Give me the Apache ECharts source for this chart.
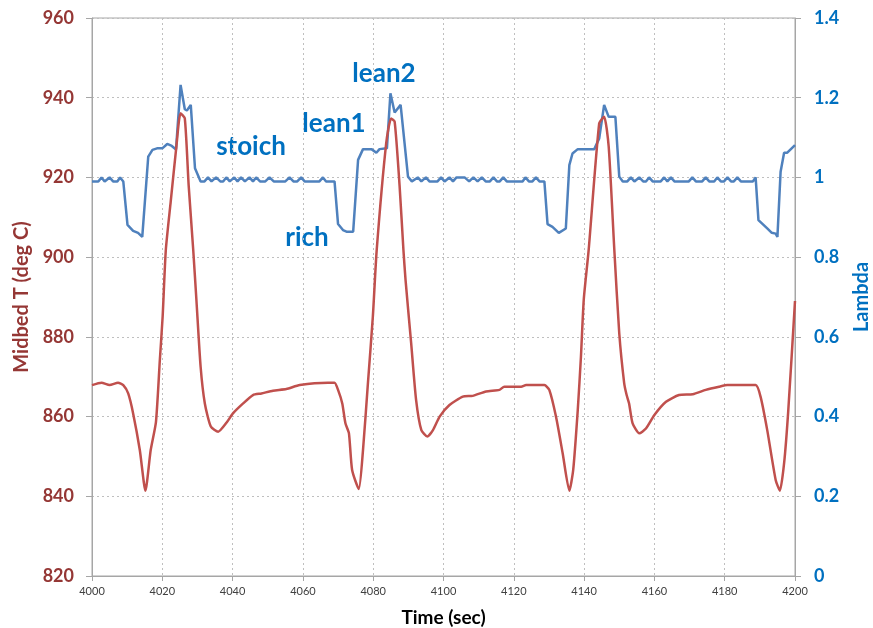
<!DOCTYPE html>
<html>
<head>
<meta charset="utf-8">
<script src="https://cdn.jsdelivr.net/npm/echarts@6/dist/echarts.min.js"></script>
<style>
html,body{margin:0;padding:0;background:#fff;}
#c{width:873px;height:628px;}
</style>
</head>
<body>
<div id="c"></div>
<script>
// Temperature series (Midbed T, deg C) vs time (sec)
var timeT = [4000,4002.7,4005,4007.4,4008.9,4010.3,4011.7,4013.6,4015.2,4016.7,4018.2,4019.3,4020.1,4021,4022.4,4024,4025.2,4026.4,4027.5,4028.8,4029.7,4030.9,4032.1,4033.8,4035.9,4038.3,4040.1,4043,4045.8,4048.2,4051.5,4055.3,4059.1,4067.1,4069,4070,4071.2,4072.1,4073.1,4074,4075.9,4077.1,4078.5,4079.9,4081,4083.7,4085.1,4086.1,4087.5,4088.6,4089.2,4090.8,4092.2,4093.7,4095.4,4097,4098.9,4101.7,4105.5,4108.3,4112.1,4115.9,4117.3,4122.1,4123.5,4128.7,4130.1,4132,4133.9,4135.8,4136.9,4138.2,4139.1,4139.9,4141.3,4144.3,4145.7,4147,4148.6,4150,4151.4,4152.1,4152.8,4153.8,4155.7,4157.6,4160,4163.3,4167,4170.9,4174.6,4178.4,4180.8,4188.8,4190.2,4192.1,4194.5,4195.7,4196.9,4198.1,4200];
var tempVals = [867.9,868.5,867.9,868.5,867.9,865.8,860.8,851.6,841.4,851.6,858.7,874.2,885.1,901.8,914,927.7,936.1,934.8,918,901.8,889.3,872.5,863.3,857.5,856.2,858.5,860.8,863.3,865.4,865.8,866.5,866.9,867.9,868.5,868.5,866.7,863.3,858.3,855.8,846.6,841.8,851.6,868.4,885.1,901.8,928.6,934.8,934,918,901.8,894.3,878.4,864.2,856.6,855,856.6,860,862.9,865,865.2,866.3,866.7,867.5,867.5,867.9,867.9,866.7,860,850.8,841.4,846.6,861.7,875,889.3,901.8,933.6,935.2,927.7,901.8,880.9,868.4,865.4,863.3,858.3,855.8,857,860.4,863.7,865.4,865.6,866.7,867.5,867.9,867.9,865,856.6,844.1,841.4,848.3,861.7,889];

// Lambda series vs time (sec)
var timeL = [4000,4001.8,4002.7,4003.6,4005,4006,4007.2,4008,4008.9,4010.1,4011.7,4013.1,4014.3,4016,4017.2,4018.5,4020,4021.4,4022.7,4023.9,4025.2,4026.4,4027,4028.1,4029.3,4030.9,4032,4033,4034,4035.3,4036.5,4037.3,4038.2,4039.2,4040.5,4041.4,4042.4,4043.5,4044.8,4045.8,4046.7,4047.8,4049.3,4050.5,4051.7,4055,4056.2,4057.3,4058.4,4059.5,4060.5,4064.7,4065.7,4066.6,4069,4070,4071.4,4072.4,4074.3,4075.7,4077.1,4079.5,4080.9,4081.8,4083.9,4084.9,4086.1,4087.8,4089.9,4091,4092.7,4093.7,4094.2,4095,4096,4098.3,4099.3,4100.3,4101.7,4102.7,4103.7,4106,4107.3,4108.5,4109.7,4110.9,4112,4113.2,4114.2,4115.2,4116,4117,4118,4122.5,4123.3,4124.3,4125.3,4126.3,4127.3,4128.7,4129.6,4131,4132.8,4134.8,4135.8,4136.7,4138.2,4142.9,4144.3,4145.7,4147,4148.9,4150,4151,4152.3,4153.3,4154.3,4155.7,4156.8,4157.6,4158.5,4159.5,4161.8,4162.8,4163.7,4164.7,4165.7,4169.8,4170.8,4171.8,4173.6,4174.6,4175.6,4177,4177.9,4178.9,4179.8,4180.8,4181.8,4182.6,4183.6,4184.6,4188,4188.8,4189.6,4192.1,4193.4,4194.5,4195,4195.9,4196.9,4197.8,4200];
var lambdaVals = [0.99,0.99,1.0,0.99,1.0,0.99,0.99,1.0,0.99,0.881,0.866,0.861,0.851,1.052,1.069,1.073,1.073,1.084,1.079,1.07,1.232,1.171,1.168,1.182,1.023,0.99,0.99,1.0,0.99,1.0,0.99,0.99,1.0,0.99,1.0,0.99,1.0,0.99,1.0,0.99,1.0,0.99,0.99,1.0,0.99,0.99,1.0,0.99,0.99,1.0,0.99,0.99,1.0,0.99,0.99,0.883,0.868,0.864,0.864,1.044,1.071,1.071,1.062,1.071,1.073,1.211,1.163,1.182,1.002,0.99,1.0,0.99,0.99,1.0,0.99,0.99,1.0,0.99,1.0,0.99,1.0,1.0,0.99,1.0,0.99,1.0,0.99,0.99,1.0,0.99,0.99,1.0,0.99,0.99,1.0,0.99,0.99,1.0,0.99,0.99,0.883,0.876,0.861,0.872,1.031,1.06,1.071,1.071,1.098,1.182,1.152,1.152,1.002,0.99,0.99,1.0,0.99,1.0,0.99,0.99,1.0,0.99,0.99,1.0,0.99,1.0,0.99,0.99,1.0,0.99,0.99,1.0,0.99,0.99,1.0,0.99,0.99,1.0,0.99,0.99,1.0,0.99,0.99,1.0,0.893,0.872,0.861,0.859,0.851,1.014,1.062,1.062,1.081];

// Annotation labels
var annoTexts = ['lean2','lean1','stoich','rich'];

var tempData = timeT.map(function(t,i){return [t,tempVals[i]];});
var lambdaData = timeL.map(function(t,i){return [t,lambdaVals[i]];});

var FONT = 'Lato, "Open Sans", sans-serif';
var chart = echarts.init(document.getElementById('c'), null, {renderer:'canvas'});
chart.setOption({
  animation:false,
  backgroundColor:'#ffffff',
  grid:{left:92,right:78,top:18,bottom:52,containLabel:false,outerBoundsMode:'none',
        show:true,borderColor:'#A6A6A6',borderWidth:1,backgroundColor:'transparent'},
  xAxis:{
    type:'value',min:4000,max:4200,interval:20,
    name:'Time (sec)',nameLocation:'middle',nameGap:32,
    nameTextStyle:{fontFamily:FONT,fontWeight:'bold',fontSize:19,color:'#000'},
    axisLine:{show:true,lineStyle:{color:'#A6A6A6'}},
    axisTick:{show:true,length:5,lineStyle:{color:'#A6A6A6'}},
    axisLabel:{fontFamily:FONT,fontSize:11,color:'#404040',margin:10,
      formatter:function(v){return String(v);}},
    splitLine:{show:true,lineStyle:{color:'#BFBFBF',type:[2,3],width:1}}
  },
  yAxis:[{
    type:'value',min:820,max:960,interval:20,position:'left',
    name:'Midbed T (deg C)',nameLocation:'middle',nameGap:57,
    nameTextStyle:{fontFamily:FONT,fontWeight:'bold',fontSize:20,color:'#953735'},
    axisLine:{show:true,lineStyle:{color:'#A6A6A6'}},
    axisTick:{show:true,length:6,lineStyle:{color:'#A6A6A6'}},
    axisLabel:{fontFamily:FONT,fontWeight:'bold',fontSize:18,color:'#953735',margin:18,
      formatter:function(v){return String(v);}},
    splitLine:{show:true,lineStyle:{color:'#BFBFBF',type:[2,3],width:1}}
  },{
    type:'value',min:0,max:1.4,interval:0.2,position:'right',
    name:'Lambda',nameLocation:'middle',nameGap:57,
    nameTextStyle:{fontFamily:FONT,fontWeight:'bold',fontSize:20,color:'#0070C0'},
    axisLine:{show:true,lineStyle:{color:'#A6A6A6'}},
    axisTick:{show:true,length:6,lineStyle:{color:'#A6A6A6'}},
    axisLabel:{fontFamily:FONT,fontWeight:'bold',fontSize:18,color:'#0070C0',margin:19,
      formatter:function(v){return String(Math.round(v*10)/10);}},
    splitLine:{show:false}
  }],
  series:[{
    type:'line',name:'Lambda',yAxisIndex:1,data:lambdaData,showSymbol:false,
    lineStyle:{color:'#4F81BD',width:2.5},itemStyle:{color:'#4F81BD'},z:2
  },{
    type:'line',name:'Midbed T',yAxisIndex:0,data:tempData,showSymbol:false,smooth:0.2,
    lineStyle:{color:'#C0504D',width:2.5},itemStyle:{color:'#C0504D'},z:3
  }],
  graphic:[
    {type:'text',x:384,y:74,style:{text:annoTexts[0],fill:'#0070C0',font:'bold 26px '+FONT,textAlign:'center',textVerticalAlign:'middle'}},
    {type:'text',x:334,y:124,style:{text:annoTexts[1],fill:'#0070C0',font:'bold 26px '+FONT,textAlign:'center',textVerticalAlign:'middle'}},
    {type:'text',x:251,y:147,style:{text:annoTexts[2],fill:'#0070C0',font:'bold 26px '+FONT,textAlign:'center',textVerticalAlign:'middle'}},
    {type:'text',x:307,y:238,style:{text:annoTexts[3],fill:'#0070C0',font:'bold 26px '+FONT,textAlign:'center',textVerticalAlign:'middle'}}
  ]
});
</script>
</body>
</html>
